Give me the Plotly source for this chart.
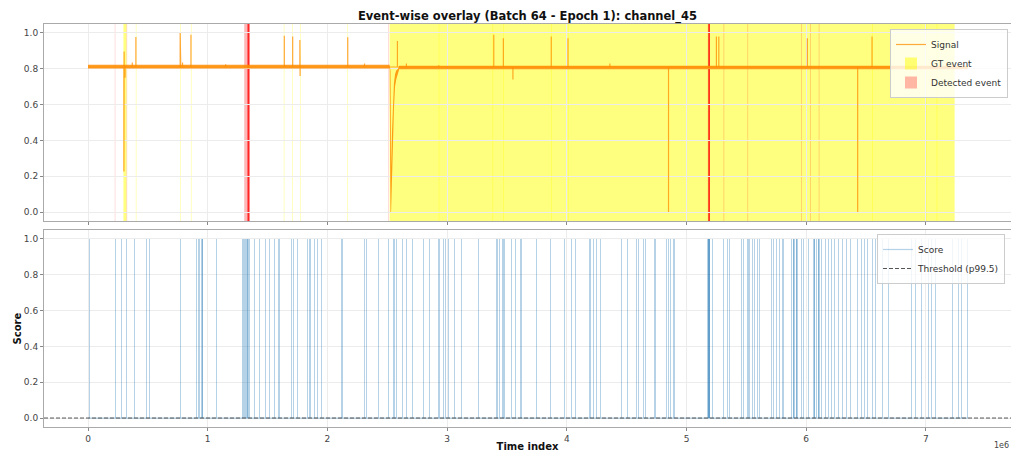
import plotly.graph_objects as go

# ---------------- data ----------------
# time axis is in units of 1e6 samples
time_start = 0.0
time_end = 7.35

# signal: steady baseline with a narrow noise envelope, plus isolated excursions
signal_base = 0.81
band_t = [0.0, 2.520, 2.527, 2.532, 2.540, 2.548, 2.556, 2.565, 2.575, 2.590, 2.600, 7.35]
band_lo = [0.802, 0.802, 0.0, 0.0, 0.12, 0.38, 0.58, 0.70, 0.74, 0.775, 0.797, 0.797]
band_hi = [0.822, 0.822, 0.79, 0.25, 0.45, 0.62, 0.72, 0.77, 0.79, 0.80, 0.817, 0.817]

spike_t = [0.300, 0.302, 0.310, 0.370, 0.400, 0.770, 0.775, 0.790, 0.860, 1.150,
           1.640, 1.710, 1.770, 1.772, 2.170, 2.310, 2.585, 2.660, 2.930, 3.390,
           3.470, 3.550, 3.870, 4.010, 4.360, 4.850, 5.250, 5.270, 6.010, 6.430,
           6.550]
spike_v = [0.227, 0.897, 0.750, 0.835, 0.977, 1.000, 0.970, 0.835, 0.990, 0.825,
           0.985, 0.980, 0.960, 0.760, 0.976, 0.830, 0.955, 0.830, 0.820, 0.990,
           0.970, 0.740, 0.980, 0.970, 0.830, 0.000, 0.980, 0.980, 0.970, 0.000,
           0.980]

# ground-truth event intervals
gt_start = [0.296, 0.400, 0.770, 0.860, 1.636, 1.706, 1.771, 2.166, 2.520,
            2.930, 3.380, 3.470, 3.870, 4.010, 6.550, 7.000, 7.090]
gt_end = [0.322, 0.404, 0.774, 0.864, 1.640, 1.710, 1.775, 2.170, 7.240,
          2.935, 3.385, 3.475, 3.875, 4.015, 6.555, 7.005, 7.095]

# detected event intervals
det_start = [0.224, 0.323, 1.305, 1.330, 1.332, 1.334, 1.336, 1.338, 2.508,
             5.178, 5.180, 5.182, 5.184, 5.186, 5.310, 5.510, 5.960, 6.035, 6.105]
det_end = [0.228, 0.327, 1.348, 1.348, 1.348, 1.348, 1.348, 1.348, 2.512,
           5.196, 5.196, 5.196, 5.196, 5.196, 5.315, 5.515, 5.965, 6.040, 6.110]

# anomaly score: binary, spikes at these times (repeats = overlapping windows)
score_t = [0.011, 0.050, 0.226, 0.280, 0.320, 0.390, 0.485, 0.510, 0.775,
           0.910, 0.925, 0.935, 0.945, 0.955, 0.960, 1.070,
           1.290, 1.300, 1.310, 1.315, 1.320, 1.325, 1.330, 1.335, 1.340, 1.345, 1.350,
           1.390, 1.430, 1.480, 1.520, 1.560, 1.590, 1.600, 1.700, 1.720, 1.750,
           1.830, 1.850, 1.860, 1.890, 1.920, 1.950, 2.120, 2.130, 2.310, 2.330,
           2.430, 2.510, 2.550, 2.560, 2.580, 2.630, 2.660, 2.710, 2.800, 2.850,
           2.930, 2.940, 2.970, 2.990, 3.010, 3.060, 3.120, 3.260, 3.410, 3.420,
           3.440, 3.460, 3.470, 3.480, 3.540, 3.570, 3.610, 3.620, 3.750, 3.860,
           3.980, 4.040, 4.070, 4.190, 4.200, 4.220, 4.250, 4.280, 4.460, 4.510,
           4.580, 4.600, 4.640, 4.660, 4.730, 4.740, 4.830, 4.850, 4.870, 4.890, 4.900,
           5.175, 5.180, 5.180, 5.185, 5.190, 5.190, 5.195, 5.220, 5.310, 5.340,
           5.360, 5.380, 5.460, 5.480, 5.510, 5.520, 5.530, 5.550, 5.570, 5.590,
           5.610, 5.710, 5.730, 5.750, 5.780, 5.800, 5.810, 5.880, 5.892, 5.892,
           5.905, 5.915, 5.915, 5.930, 5.940, 5.960, 5.980, 6.020, 6.040, 6.060,
           6.072, 6.072, 6.090, 6.100, 6.100, 6.115, 6.130, 6.160, 6.190, 6.210,
           6.240, 6.270, 6.300, 6.340, 6.370, 6.430, 6.460, 6.490, 6.510, 6.550,
           6.580, 6.600, 6.640, 6.690, 6.880, 6.910, 6.960, 7.020, 7.050, 7.080,
           7.220, 7.270, 7.300, 7.350]
spike_score = 1.0
score_floor = 0.0
threshold_p995 = 0.0

x_ticks = [0, 1, 2, 3, 4, 5, 6, 7]
y_ticks = [0.0, 0.2, 0.4, 0.6, 0.8, 1.0]

# ---------------- styling ----------------
FONT = "DejaVu Sans"
ORANGE_BAND = "rgba(255,140,0,0.85)"
ORANGE_LINE = "rgba(255,140,0,0.75)"
BLUE = "rgba(31,119,180,0.33)"
FRAME = "#aaaaaa"
GRID = "#ececec"
TICKFONT = dict(family=FONT, size=9, color="#444444")

# signal path: baseline with vertical excursions at each spike
sig_x, sig_y = [time_start], [signal_base]
for t, v in zip(spike_t, spike_v):
    sig_x += [t, t, t]
    sig_y += [signal_base, v, signal_base]
sig_x.append(time_end)
sig_y.append(signal_base)

fig = go.Figure()

# noise envelope of the signal
fig.add_trace(go.Scatter(
    x=band_t + band_t[::-1], y=band_hi + band_lo[::-1],
    fill="toself", fillcolor=ORANGE_BAND, line=dict(width=0, color=ORANGE_BAND),
    mode="lines", hoverinfo="skip", showlegend=False, legendgroup="signal",
    xaxis="x", yaxis="y"))

fig.add_trace(go.Scatter(
    x=sig_x, y=sig_y, mode="lines", name="Signal",
    line=dict(color=ORANGE_LINE, width=1.2),
    legendgroup="signal", legend="legend", legendrank=1,
    xaxis="x", yaxis="y"))

# score spikes
fig.add_trace(go.Bar(
    x=score_t, y=[spike_score] * len(score_t), width=0.008,
    marker=dict(color=BLUE, line=dict(width=0)),
    showlegend=False, legendgroup="score",
    xaxis="x2", yaxis="y2"))

fig.add_trace(go.Scatter(
    x=[time_start, time_end], y=[score_floor, score_floor], mode="lines",
    name="Score", line=dict(color=BLUE, width=1.2),
    legendgroup="score", legend="legend2", legendrank=1,
    xaxis="x2", yaxis="y2"))

shapes = []
for i, (a, b) in enumerate(zip(gt_start, gt_end)):
    shapes.append(dict(
        type="rect", xref="x", yref="y domain", x0=a, x1=b, y0=0, y1=1,
        fillcolor="yellow", opacity=0.5, line=dict(width=0), layer="below",
        name="GT event", legendgroup="gt", showlegend=(i == 0),
        legend="legend", legendrank=2))
for i, (a, b) in enumerate(zip(det_start, det_end)):
    shapes.append(dict(
        type="rect", xref="x", yref="y domain", x0=a, x1=b, y0=0, y1=1,
        fillcolor="red", opacity=0.28, line=dict(width=0), layer="below",
        name="Detected event", legendgroup="det", showlegend=(i == 0),
        legend="legend", legendrank=3))
shapes.append(dict(
    type="line", xref="x2 domain", yref="y2", x0=0, x1=1,
    y0=threshold_p995, y1=threshold_p995,
    line=dict(color="#555555", width=1, dash="4px,2px"),
    name="Threshold (p99.5)", showlegend=True, legend="legend2", legendrank=2))

x_range = [-0.3676, 7.711]
axis_common = dict(
    showline=True, linecolor=FRAME, linewidth=1, mirror=True,
    showgrid=True, gridcolor=GRID, gridwidth=1, zeroline=False,
    ticks="outside", ticklen=3, tickcolor="#888888", tickfont=TICKFONT)

fig.update_layout(
    width=1011, height=452,
    margin=dict(l=44, r=0, t=24, b=25),
    paper_bgcolor="white", plot_bgcolor="white",
    font=dict(family=FONT, color="#222222"),
    barmode="overlay", bargap=0,
    title=dict(text="<b>Event-wise overlay (Batch 64 - Epoch 1): channel_45</b>",
               x=0.5, xref="paper", xanchor="center",
               y=1 - 16 / 452, yref="container", yanchor="middle",
               font=dict(family=FONT, size=11.5, color="#111111")),
    xaxis=dict(domain=[0, 1], anchor="y", range=x_range, tickvals=x_ticks,
               showticklabels=False, matches="x2", **axis_common),
    yaxis=dict(domain=[0.5112, 1], anchor="x", range=[-0.05, 1.05],
               tickvals=y_ticks, tickformat=".1f", **axis_common),
    xaxis2=dict(domain=[0, 1], anchor="y2", range=x_range, tickvals=x_ticks,
                title=dict(text="<b>Time index</b>", standoff=2,
                           font=dict(family=FONT, size=10, color="#111111")),
                **axis_common),
    yaxis2=dict(domain=[0, 0.4888], anchor="x2", range=[-0.05, 1.05],
                tickvals=y_ticks, tickformat=".1f",
                title=dict(text="<b>Score</b>", standoff=0,
                           font=dict(family=FONT, size=10, color="#111111")),
                **axis_common),
    legend=dict(x=0.9969, xanchor="right", y=0.9876, yanchor="top",
                bgcolor="rgba(255,255,255,0.8)", bordercolor="#cccccc",
                borderwidth=1, font=dict(family=FONT, size=9, color="#333333"),
                tracegroupgap=0, itemwidth=30),
    legend2=dict(x=0.9938, xanchor="right", y=0.4789, yanchor="top",
                 bgcolor="rgba(255,255,255,0.8)", bordercolor="#cccccc",
                 borderwidth=1, font=dict(family=FONT, size=9, color="#333333"),
                 tracegroupgap=0, itemwidth=30),
    shapes=shapes,
    annotations=[dict(text="1e6", xref="paper", yref="paper", x=0.9995, y=-0.046,
                      xanchor="right", yanchor="middle", showarrow=False,
                      font=dict(family=FONT, size=8, color="#444444"))],
)

fig.write_html("out.html")
